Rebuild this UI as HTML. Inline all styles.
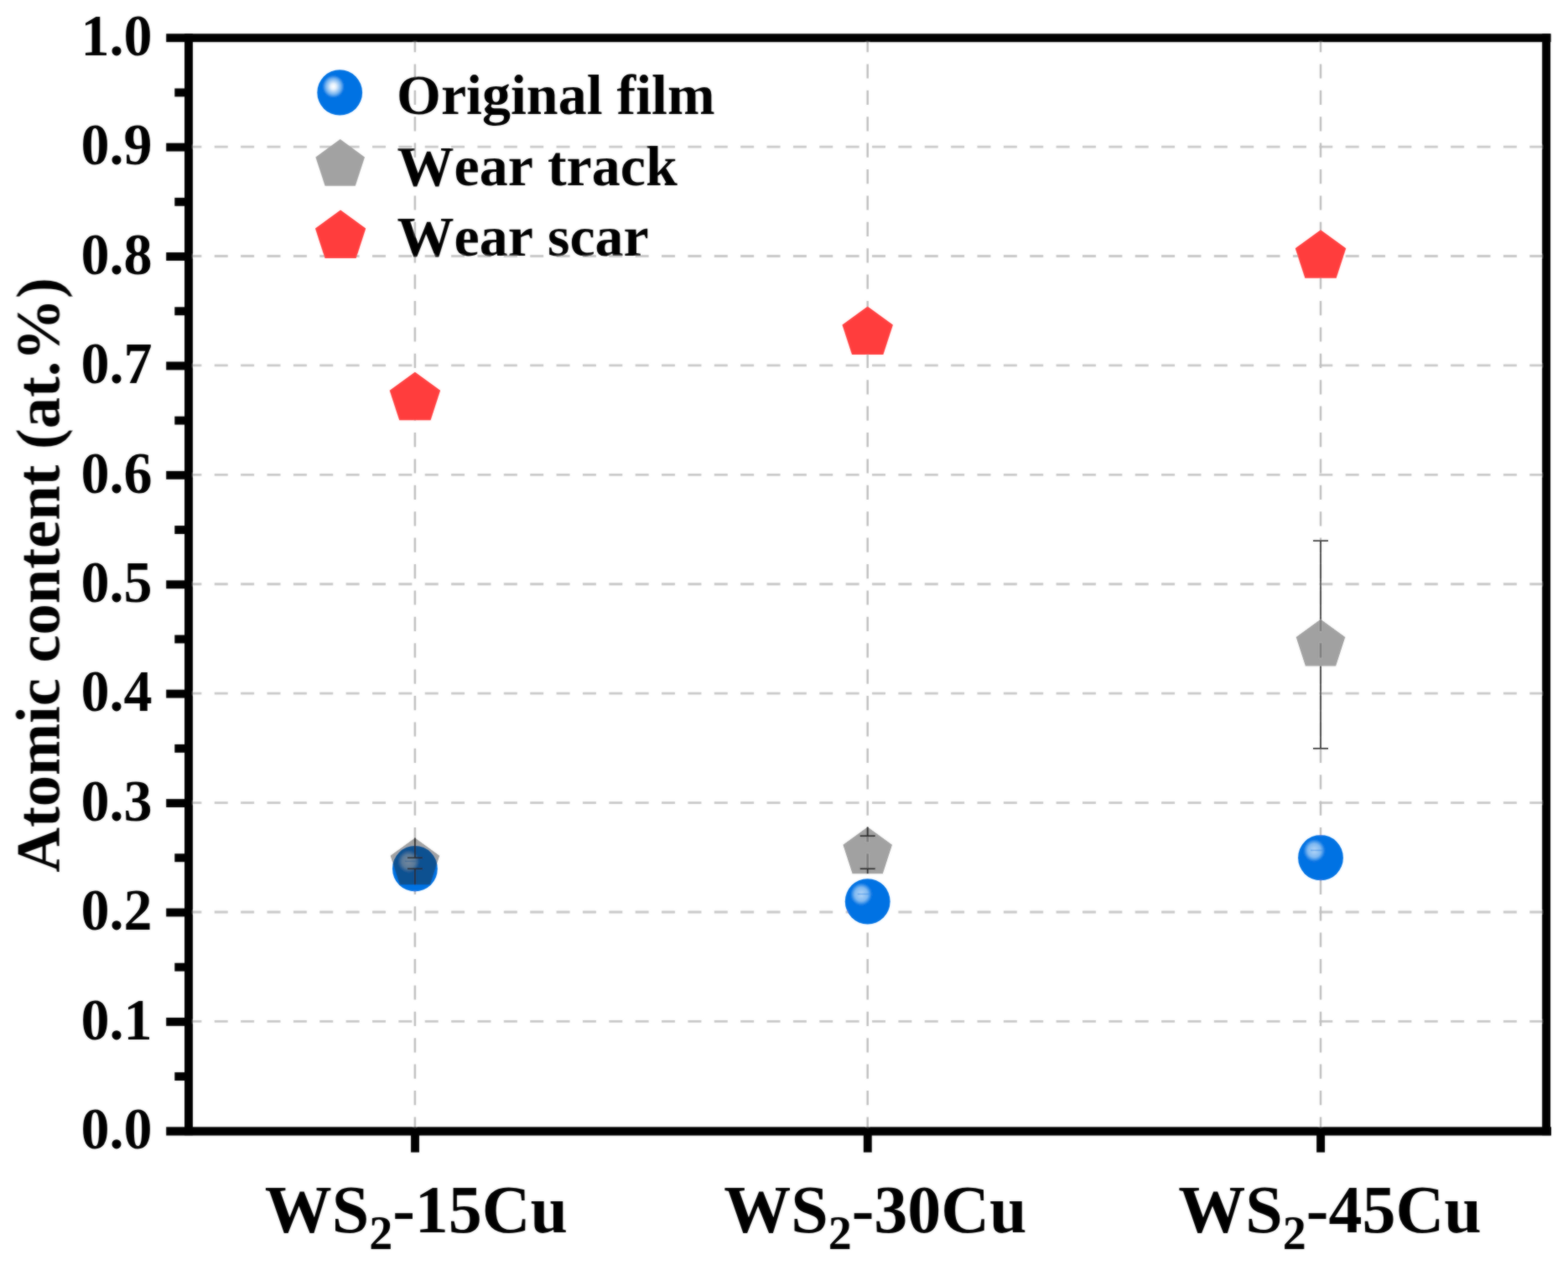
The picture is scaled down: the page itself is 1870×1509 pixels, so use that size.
<!DOCTYPE html>
<html lang="en"><head><meta charset="utf-8"><title>Atomic content chart</title>
<style>
html,body{margin:0;padding:0;background:#fff;}
body{width:1870px;height:1509px;overflow:hidden;}
svg{display:block;}
text{font-kerning:none;font-family:"Liberation Serif","Times New Roman",Times,serif;font-weight:bold;fill:#000;}
</style></head><body>
<svg width="1870" height="1509" viewBox="0 0 1870 1509">
<defs>
<radialGradient id="hl" cx="50%" cy="50%" r="50%"><stop offset="0" stop-color="#fff" stop-opacity="1"/><stop offset="0.25" stop-color="#fff" stop-opacity="0.9"/><stop offset="0.7" stop-color="#fff" stop-opacity="0.45"/><stop offset="1" stop-color="#fff" stop-opacity="0"/></radialGradient>
<radialGradient id="hl2" cx="50%" cy="50%" r="50%"><stop offset="0" stop-color="#fff" stop-opacity="0.72"/><stop offset="0.6" stop-color="#fff" stop-opacity="0.5"/><stop offset="1" stop-color="#fff" stop-opacity="0"/></radialGradient>
<filter id="soft" x="-5%" y="-5%" width="110%" height="110%"><feGaussianBlur in="SourceGraphic" stdDeviation="0.9" result="b"/><feComposite in="SourceGraphic" in2="b" operator="arithmetic" k1="0" k2="0.45" k3="0.55" k4="0"/></filter>
</defs>
<rect width="1870" height="1509" fill="#fff"/>
<g filter="url(#soft)">
<g stroke="#c8c8c8" stroke-width="2.80" stroke-dasharray="16.00 15.37" fill="none">
<line x1="224.40" y1="1218.39" x2="1844.00" y2="1218.39"/>
<line x1="224.40" y1="1087.98" x2="1844.00" y2="1087.98"/>
<line x1="224.40" y1="957.57" x2="1844.00" y2="957.57"/>
<line x1="224.40" y1="827.16" x2="1844.00" y2="827.16"/>
<line x1="224.40" y1="696.75" x2="1844.00" y2="696.75"/>
<line x1="224.40" y1="566.34" x2="1844.00" y2="566.34"/>
<line x1="224.40" y1="435.93" x2="1844.00" y2="435.93"/>
<line x1="224.40" y1="305.52" x2="1844.00" y2="305.52"/>
<line x1="224.40" y1="175.11" x2="1844.00" y2="175.11"/>
<line x1="494.90" y1="45.00" x2="494.90" y2="1349.30" stroke-dasharray="17.2 14.2" stroke-width="2.4" stroke="#bebebe"/>
<line x1="1034.70" y1="45.00" x2="1034.70" y2="1349.30" stroke-dasharray="17.2 14.2" stroke-width="2.4" stroke="#bebebe"/>
<line x1="1575.00" y1="45.00" x2="1575.00" y2="1349.30" stroke-dasharray="17.2 14.2" stroke-width="2.4" stroke="#bebebe"/>
</g>
<g id="series-original-film">
<ellipse cx="494.90" cy="1036.22" rx="26.90" ry="27.20" fill="#0072E3"/><ellipse cx="487.30" cy="1027.62" rx="13" ry="13.5" fill="url(#hl2)"/><line x1="482.90" y1="1027.42" x2="497.40" y2="1027.42" stroke="#3a8ee8" stroke-opacity="0.55" stroke-width="1.6"/>
<ellipse cx="1034.70" cy="1075.34" rx="26.90" ry="27.20" fill="#0072E3"/><ellipse cx="1027.10" cy="1066.74" rx="13" ry="13.5" fill="url(#hl2)"/><line x1="1022.70" y1="1066.54" x2="1037.20" y2="1066.54" stroke="#3a8ee8" stroke-opacity="0.55" stroke-width="1.6"/>
<ellipse cx="1575.00" cy="1023.17" rx="26.90" ry="27.20" fill="#0072E3"/><ellipse cx="1567.40" cy="1014.57" rx="13" ry="13.5" fill="url(#hl2)"/><line x1="1563.00" y1="1014.38" x2="1577.50" y2="1014.38" stroke="#3a8ee8" stroke-opacity="0.55" stroke-width="1.6"/>
</g>
<g id="series-wear-track">
<g stroke="#303030" stroke-width="1.7" fill="none">
<line x1="494.90" y1="999.50" x2="494.90" y2="1023.27"/>
<line x1="494.90" y1="1055.21" x2="494.90" y2="1036.32"/>
<line x1="485.90" y1="1023.27" x2="503.90" y2="1023.27"/>
<line x1="485.90" y1="1036.32" x2="503.90" y2="1036.32"/>
</g>
<polygon points="494.90,999.50 524.19,1020.78 513.00,1055.21 476.80,1055.21 465.61,1020.78" fill="rgb(38,38,38)" fill-opacity="0.43"/>
<g stroke="#303030" stroke-width="1.7" fill="none">
<line x1="1034.70" y1="986.45" x2="1034.70" y2="997.19"/>
<line x1="1034.70" y1="1042.17" x2="1034.70" y2="1036.32"/>
<line x1="1025.70" y1="997.19" x2="1043.70" y2="997.19"/>
<line x1="1025.70" y1="1036.32" x2="1043.70" y2="1036.32"/>
</g>
<polygon points="1034.70,986.45 1063.99,1007.74 1052.80,1042.17 1016.60,1042.17 1005.41,1007.74" fill="rgb(38,38,38)" fill-opacity="0.43"/>
<g stroke="#303030" stroke-width="1.7" fill="none">
<line x1="1575.00" y1="738.68" x2="1575.00" y2="645.09"/>
<line x1="1575.00" y1="794.39" x2="1575.00" y2="892.87"/>
<line x1="1566.00" y1="645.09" x2="1584.00" y2="645.09"/>
<line x1="1566.00" y1="892.87" x2="1584.00" y2="892.87"/>
</g>
<polygon points="1575.00,738.68 1604.29,759.96 1593.10,794.39 1556.90,794.39 1545.71,759.96" fill="rgb(38,38,38)" fill-opacity="0.43"/>
</g>
<g id="series-wear-scar">
<polygon points="494.90,443.75 525.14,465.73 513.59,501.28 476.21,501.28 464.66,465.73" fill="#FF3E3E"/>
<polygon points="1034.70,365.51 1064.94,387.48 1053.39,423.03 1016.01,423.03 1004.46,387.48" fill="#FF3E3E"/>
<polygon points="1575.00,274.22 1605.24,296.19 1593.69,331.75 1556.31,331.75 1544.76,296.19" fill="#FF3E3E"/>
</g>
<g fill="#000">
<rect x="198.2" y="40.25" width="1651.40" height="9.90"/>
<rect x="198.2" y="1344.35" width="1651.80" height="10.20"/>
<rect x="220.05" y="40.25" width="9.90" height="1314.00"/>
<rect x="1839.15" y="40.25" width="9.90" height="1314.00"/>
<rect x="208.3" y="1279.14" width="14" height="9.90"/>
<rect x="198.2" y="1213.94" width="24" height="9.90"/>
<rect x="208.3" y="1148.73" width="14" height="9.90"/>
<rect x="198.2" y="1083.53" width="24" height="9.90"/>
<rect x="208.3" y="1018.32" width="14" height="9.90"/>
<rect x="198.2" y="953.12" width="24" height="9.90"/>
<rect x="208.3" y="887.91" width="14" height="9.90"/>
<rect x="198.2" y="822.71" width="24" height="9.90"/>
<rect x="208.3" y="757.50" width="14" height="9.90"/>
<rect x="198.2" y="692.30" width="24" height="9.90"/>
<rect x="208.3" y="627.09" width="14" height="9.90"/>
<rect x="198.2" y="561.89" width="24" height="9.90"/>
<rect x="208.3" y="496.68" width="14" height="9.90"/>
<rect x="198.2" y="431.48" width="24" height="9.90"/>
<rect x="208.3" y="366.27" width="14" height="9.90"/>
<rect x="198.2" y="301.07" width="24" height="9.90"/>
<rect x="208.3" y="235.87" width="14" height="9.90"/>
<rect x="198.2" y="170.66" width="24" height="9.90"/>
<rect x="208.3" y="105.46" width="14" height="9.90"/>
<rect x="490.05" y="1349.30" width="9.90" height="25.30"/>
<rect x="1029.85" y="1349.30" width="9.90" height="25.30"/>
<rect x="1570.15" y="1349.30" width="9.90" height="25.30"/>
</g>
<g font-size="68px" text-anchor="end">
<text transform="translate(181.6 1370.00) scale(1 1.02)">0.0</text>
<text transform="translate(181.6 1239.59) scale(1 1.02)">0.1</text>
<text transform="translate(181.6 1109.18) scale(1 1.02)">0.2</text>
<text transform="translate(181.6 978.77) scale(1 1.02)">0.3</text>
<text transform="translate(181.6 848.36) scale(1 1.02)">0.4</text>
<text transform="translate(181.6 717.95) scale(1 1.02)">0.5</text>
<text transform="translate(181.6 587.54) scale(1 1.02)">0.6</text>
<text transform="translate(181.6 457.13) scale(1 1.02)">0.7</text>
<text transform="translate(181.6 326.72) scale(1 1.02)">0.8</text>
<text transform="translate(181.6 196.31) scale(1 1.02)">0.9</text>
<text transform="translate(181.6 65.90) scale(1 1.02)">1.0</text>
</g>
<g font-size="80px" text-anchor="middle">
<text x="496.40" y="1470.4">WS<tspan font-size="56px" dy="19.3">2</tspan><tspan dy="-19.3">-15Cu</tspan></text>
<text x="1043.90" y="1470.4">WS<tspan font-size="56px" dy="19.3">2</tspan><tspan dy="-19.3">-30Cu</tspan></text>
<text x="1586.00" y="1470.4">WS<tspan font-size="56px" dy="19.3">2</tspan><tspan dy="-19.3">-45Cu</tspan></text>
</g>
<text font-size="74.5px" text-anchor="middle" transform="translate(70.6 686) rotate(-90)">Atomic content (at.%)</text>
<g id="legend">
<g>
<ellipse cx="405.20" cy="110.40" rx="26.90" ry="27.20" fill="#0072E3"/><ellipse cx="397.60" cy="103.20" rx="13" ry="13.5" fill="url(#hl)"/>
<polygon points="405.70,166.10 434.99,187.38 423.80,221.82 387.60,221.82 376.41,187.38" fill="#a2a2a2"/>
<polygon points="406.10,250.60 436.25,272.50 424.73,307.95 387.47,307.95 375.95,272.50" fill="#FF3E3E"/>
</g>
<g font-size="68px">
<text x="473" y="136.4">Original film</text>
<text x="473.6" y="220.6">Wear track</text>
<text x="473.6" y="304.8">Wear scar</text>
</g></g>
</g>
</svg>
</body></html>
